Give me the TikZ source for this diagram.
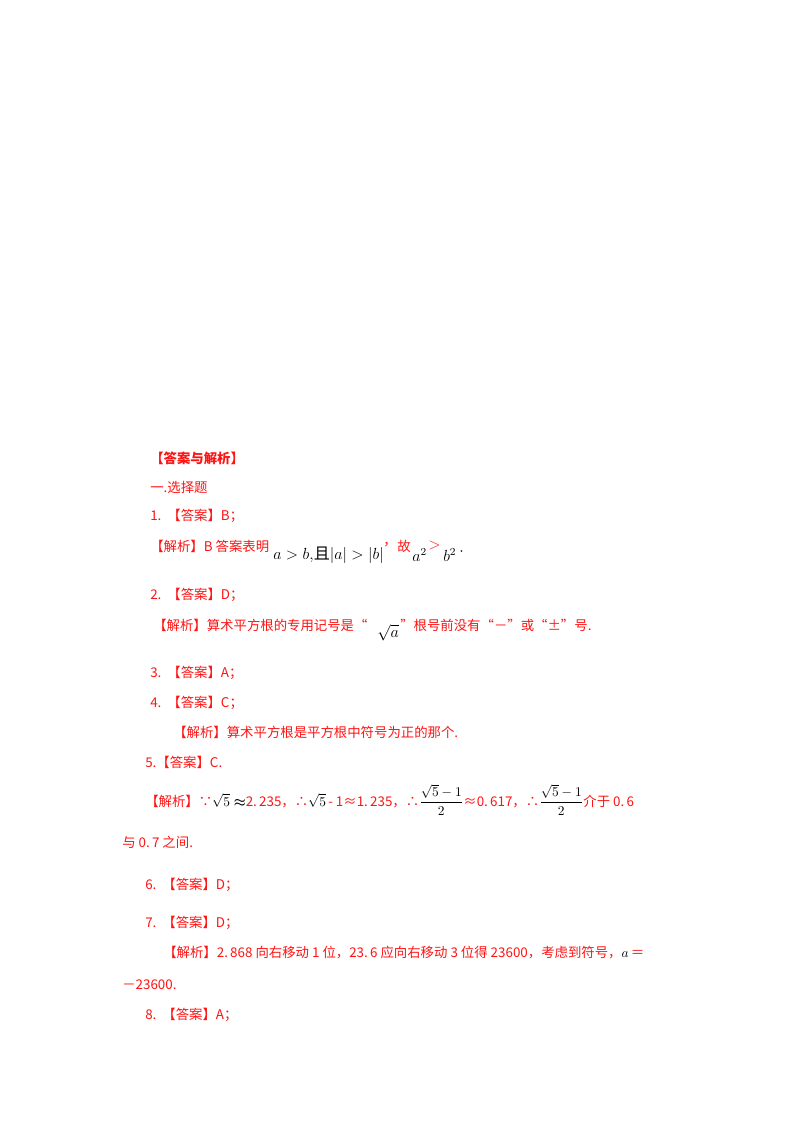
\documentclass[tikz,border=0pt]{standalone}
\usepackage{amsmath,amssymb}
\usepackage{fontspec}
\newfontfamily\cjk{Noto Sans CJK SC}
\usepackage{tikz}
\usetikzlibrary{positioning}
\definecolor{ansred}{RGB}{255,20,20}
\newcommand{\blk}[1]{\textcolor{black}{#1}}

\begin{document}
\begin{tikzpicture}[x=0.02625cm, y=-0.02625cm,
  txt/.style={anchor=west, inner sep=0pt, text=ansred, font=\cjk\fontsize{10pt}{12pt}\selectfont},
  hdr/.style={txt, font=\cjk\bfseries\fontsize{10pt}{12pt}\selectfont},
  mth/.style={anchor=west, inner sep=0pt, text=black, font=\fontsize{12pt}{14pt}\selectfont}]
\useasboundingbox[fill=white] (0,0) rectangle (800,1132);

% Heading
\node[hdr] (head) at (150,458) {【答案与解析】};
\node[txt] (sec) at (150,487) {一.选择题};

% Question 1
\node[txt] (q1) at (150,516) {1.\ \ 【答案】B；};
\node[txt] (e1) at (150,546) {【解析】B 答案表明};
\node[mth] (e1m) at (273,555) {$a>b,${\cjk 且}$|a|>|b|$};
\node[txt] (e1c) at (383,545) {，};
\node[txt] (e1g) at (397,546) {故};
\node[mth] (e1a) at (412,555) {$a^{2}$};
\node[mth, text=ansred] (e1gt) at (428,545) {$>$};
\node[mth] (e1b) at (443,555) {$b^{2}$};
\node[mth] (e1d) at (459,552) {$\cdot$};

% Question 2
\node[txt] (q2) at (150,595) {2.\ \ 【答案】D；};
\node[txt] (e2) at (153,625) {【解析】算术平方根的专用记号是“};
\node[mth] (e2m) at (377,633) {$\sqrt{a}$};
\node[txt] (e2r) at (400,625) {”根号前没有“－”或“±”号.};

% Questions 3 and 4
\node[txt] (q3) at (150,673) {3.\ \ 【答案】A；};
\node[txt] (q4) at (150,703) {4.\ \ 【答案】C；};
\node[txt] (e4) at (173,732) {【解析】算术平方根是平方根中符号为正的那个.};

% Question 5
\node[txt] (q5) at (145,762) {5.【答案】C.};
\node[txt] (e5) at (145,800) {【解析】∵\blk{$\sqrt{5}\boldsymbol{\approx}$}2.\,235，∴\blk{$\sqrt{5}$}\,- 1≈1.\,235，∴\blk{$\dfrac{\sqrt{5}-1}{2}$}≈0.\,617，∴\blk{$\dfrac{\sqrt{5}-1}{2}$}介于 0.\,6};
\node[txt] (e5b) at (122,842) {与 0.\,7 之间.};

% Questions 6 and 7
\node[txt] (q6) at (145,885) {6.\ \ 【答案】D；};
\node[txt] (q7) at (145,923) {7.\ \ 【答案】D；};
\node[txt] (e7) at (163,953) {【解析】2.\,868 向右移动 1 位，23.\,6 应向右移动 3 位得 23600，考虑到符号，\blk{$a$}\,＝};
\node[txt] (e7b) at (122,985) {－23600.};

% Question 8
\node[txt] (q8) at (145,1015) {8.\ \ 【答案】A；};
\end{tikzpicture}
\end{document}
